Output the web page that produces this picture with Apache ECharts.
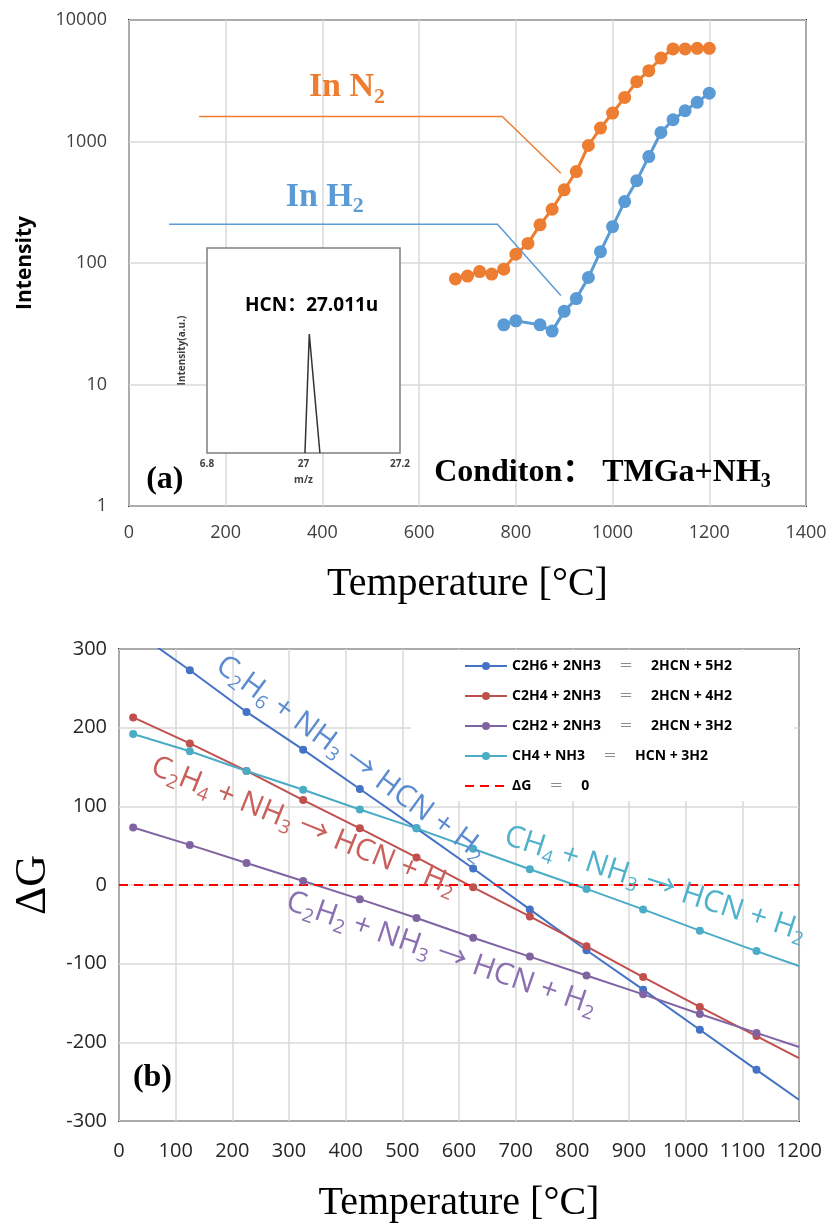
<!DOCTYPE html>
<html>
<head>
<meta charset="utf-8">
<script src="https://cdn.jsdelivr.net/npm/echarts@6/dist/echarts.min.js"></script>
<style>
  html, body { margin: 0; padding: 0; background: #fff; }
  #chart { width: 834px; height: 1232px; }
</style>
</head>
<body>
<div id="chart"></div>
<script>
// (a) HCN intensity vs temperature
var n2Temp = [675, 700, 725, 750, 775, 800, 825, 850, 875, 900, 925, 950, 975, 1000, 1025, 1050, 1075, 1100, 1125, 1150, 1175, 1200];
var n2Val = [74, 78, 85, 81, 89, 118, 145, 206, 277, 400, 566, 927, 1290, 1715, 2307, 3107, 3826, 4863, 5780, 5780, 5850, 5850];
var h2Temp = [775, 800, 850, 875, 900, 925, 950, 975, 1000, 1025, 1050, 1075, 1100, 1125, 1150, 1175, 1200];
var h2Val = [31, 33.4, 31, 27.5, 40, 51, 76, 124, 199, 320, 476, 752, 1186, 1510, 1790, 2100, 2500];
// callout lines pointing at the two curves
var n2Callout = [[145, 1607], [772, 1607], [893, 548]];
var h2Callout = [[83, 208], [762, 208], [893, 54]];

// inset mass spectrum
var peakMz = [27.003, 27.012, 27.034];
var peakVal = [0, 0.58, 0];
var insetTicks = [26.8, 27, 27.2];
var insetTickText = ["6.8", "27", "27.2"];

// (b) Gibbs energy vs temperature
var dgTemp = [25, 125, 225, 325, 425, 525, 625, 725, 825, 925, 1025, 1125, 1200];
var c2h6 = [324, 273, 220, 172, 122, 72, 21, -31, -83, -133, -184, -235, -273];
var c2h4 = [213, 180, 145, 108, 72, 35, -3, -40, -78, -117, -155, -192, -220];
var c2h2 = [73, 51, 28, 5, -18, -42, -67, -91, -115, -139, -164, -188, -206];
var ch4 = [192, 170, 145, 121, 96, 72, 46, 20, -5, -31, -58, -84, -103];
var zeroLine = [[0, 0], [1200, 0]];
var legendNames = [
  "C2H6 + 2NH3 = 2HCN + 5H2",
  "C2H4 + 2NH3 = 2HCN + 4H2",
  "C2H2 + 2NH3 = 2HCN + 3H2",
  "CH4 + NH3 = HCN + 3H2",
  "ΔG = 0"
];

var SANS = '"Open Sans", "Noto Sans CJK SC", sans-serif';
var SERIF = '"Liberation Serif", "Noto Sans CJK SC", serif';
var GRID_LINE = { lineStyle: { color: "#d9d9d9", width: 1.5 } };

function pairs(xs, ys) {
  return xs.map(function (x, i) { return [x, ys[i]]; });
}
// last point (1200) only carries the line to the frame, no marker
function dgData(ys) {
  return dgTemp.map(function (t, i) {
    if (t === 1200) return { value: [t, ys[i]], symbol: "none" };
    return [t, ys[i]];
  });
}

function dgSeries(name, ys, color) {
  return {
    name: name, type: "line", xAxisIndex: 1, yAxisIndex: 1,
    data: dgData(ys), color: color,
    symbol: "circle", symbolSize: 8,
    lineStyle: { width: 2, color: color },
    itemStyle: { color: color }
  };
}

function plainNumber(v) { return String(Math.round(v)); }

var chart = echarts.init(document.getElementById("chart"));

var option = {
  animation: false,
  backgroundColor: "#fff",
  grid: [
    { left: 129, top: 20, width: 677, height: 486, show: true, borderColor: "#262626", borderWidth: 2 },
    { left: 119, top: 649, width: 680, height: 472, show: true, borderColor: "#262626", borderWidth: 2 },
    { left: 207, top: 248, width: 193, height: 205, show: true, borderColor: "#7f7f7f", borderWidth: 1.5, backgroundColor: "#fff", z: 5 }
  ],
  xAxis: [
    {
      gridIndex: 0, type: "value", min: 0, max: 1400, interval: 200,
      axisLine: { show: false }, axisTick: { show: false },
      axisLabel: { margin: 18, fontSize: 18, color: "#404040", fontFamily: SANS, formatter: plainNumber },
      splitLine: GRID_LINE,
      name: "Temperature [°C]", nameLocation: "middle", nameGap: 58,
      nameTextStyle: { fontFamily: SERIF, fontSize: 40, color: "#000" }
    },
    {
      gridIndex: 1, type: "value", min: 0, max: 1200, interval: 100,
      axisLine: { show: false }, axisTick: { show: false },
      axisLabel: { margin: 20, fontSize: 20, color: "#262626", fontFamily: SANS, formatter: plainNumber },
      splitLine: GRID_LINE,
      name: "Temperature [°C]", nameLocation: "middle", nameGap: 62,
      nameTextStyle: { fontFamily: SERIF, fontSize: 40, color: "#000" }
    },
    {
      gridIndex: 2, type: "value", min: 26.8, max: 27.2, interval: 0.2, z: 6,
      axisLine: { show: false }, axisTick: { show: false }, splitLine: { show: false },
      axisLabel: {
        margin: 6, fontSize: 10, fontWeight: "bold", color: "#404040", fontFamily: SANS,
        formatter: function (v) {
          var i = Math.round((v - insetTicks[0]) / 0.2);
          return insetTickText[i] || "";
        }
      },
      name: "m/z", nameLocation: "middle", nameGap: 22,
      nameTextStyle: { fontSize: 10, fontWeight: "bold", color: "#404040", fontFamily: SANS }
    }
  ],
  yAxis: [
    {
      gridIndex: 0, type: "log", logBase: 10, min: 1, max: 10000,
      axisLine: { show: false }, axisTick: { show: false },
      axisLabel: { margin: 22, fontSize: 18, color: "#404040", fontFamily: SANS, formatter: plainNumber },
      splitLine: GRID_LINE,
      name: "Intensity", nameLocation: "middle", nameGap: 93,
      nameTextStyle: { fontFamily: SANS, fontWeight: "bold", fontSize: 21, color: "#000" }
    },
    {
      gridIndex: 1, type: "value", min: -300, max: 300, interval: 100,
      axisLine: { show: false }, axisTick: { show: false },
      axisLabel: { margin: 12, fontSize: 20, color: "#262626", fontFamily: SANS },
      splitLine: GRID_LINE,
      name: "ΔG", nameLocation: "middle", nameGap: 55,
      nameTextStyle: { fontFamily: SERIF, fontSize: 44, color: "#000" }
    },
    {
      gridIndex: 2, type: "value", min: 0, max: 1, z: 6,
      axisLine: { show: false }, axisTick: { show: false },
      axisLabel: { show: false }, splitLine: { show: false },
      name: "Intensity(a.u.)", nameLocation: "middle", nameGap: 20,
      nameTextStyle: { fontSize: 10, fontWeight: "bold", color: "#404040", fontFamily: SANS }
    }
  ],
  legend: {
    data: legendNames.map(function (n, i) {
      return i === 4 ? { name: n, itemStyle: { opacity: 0 } } : n;
    }),
    orient: "vertical",
    left: 411, top: 650,
    padding: [9, 62, 8, 53],
    backgroundColor: "#fff",
    itemWidth: 42, itemHeight: 10, itemGap: 16,
    formatter: function (name) {
      var p = name.split(" = ");
      return "{b|" + p[0] + "}{e|＝}{b|" + p[1] + "}";
    },
    textStyle: {
      rich: {
        b: { fontFamily: SANS, fontWeight: "bold", fontSize: 14, color: "#000" },
        e: { fontFamily: SANS, fontSize: 14, color: "#8c8c8c", padding: [0, 18, 0, 18] }
      }
    }
  },
  series: [
    {
      name: "In N2", type: "line", xAxisIndex: 0, yAxisIndex: 0,
      data: pairs(n2Temp, n2Val), color: "#ED7D31",
      symbol: "circle", symbolSize: 13, lineStyle: { width: 3 }
    },
    {
      name: "In H2", type: "line", xAxisIndex: 0, yAxisIndex: 0,
      data: pairs(h2Temp, h2Val), color: "#5B9BD5",
      symbol: "circle", symbolSize: 13, lineStyle: { width: 3 }
    },
    {
      name: "n2-callout", type: "line", xAxisIndex: 0, yAxisIndex: 0, silent: true,
      data: n2Callout, symbol: "none", lineStyle: { width: 1.5, color: "#ED7D31" }
    },
    {
      name: "h2-callout", type: "line", xAxisIndex: 0, yAxisIndex: 0, silent: true,
      data: h2Callout, symbol: "none", lineStyle: { width: 1.5, color: "#5B9BD5" }
    },
    {
      name: "peak", type: "line", xAxisIndex: 2, yAxisIndex: 2, z: 7, silent: true,
      data: pairs(peakMz, peakVal), symbol: "none",
      lineStyle: { width: 1.5, color: "#333" }
    },
    dgSeries(legendNames[0], c2h6, "#4472C4"),
    dgSeries(legendNames[1], c2h4, "#C0504D"),
    dgSeries(legendNames[2], c2h2, "#8064A2"),
    dgSeries(legendNames[3], ch4, "#4BACC6"),
    {
      name: legendNames[4], type: "line", xAxisIndex: 1, yAxisIndex: 1,
      data: zeroLine, symbol: "none", color: "#FF0000",
      lineStyle: { width: 2, type: [9, 6], color: "#FF0000" }
    }
  ]
};

chart.setOption(option);

// text annotations, anchored in data coordinates of their grid
var notes = [
  { grid: 0, at: [372, 2775], text: "In N{s|2}", size: 34, sub: 22, color: "#ED7D31", font: SERIF, weight: "bold", align: "left", rot: 0 },
  { grid: 0, at: [324, 350], text: "In H{s|2}", size: 34, sub: 22, color: "#5B9BD5", font: SERIF, weight: "bold", align: "left", rot: 0 },
  { grid: 0, at: [74, 1.63], text: "(a)", size: 32, sub: 20, color: "#000", font: SERIF, weight: "bold", align: "center", rot: 0 },
  { grid: 0, at: [631, 1.89], text: "Conditon： TMGa+NH{s|3}", size: 32, sub: 20, color: "#000", font: SERIF, weight: "bold", align: "left", rot: 0 },
  { grid: 2, at: [27.017, 0.72], text: "HCN：27.011u", size: 19, sub: 12, color: "#000", font: SANS, weight: "bold", align: "center", rot: 0 },
  { grid: 1, at: [59, -245], text: "(b)", size: 32, sub: 20, color: "#000", font: SERIF, weight: "bold", align: "center", rot: 0 },
  { grid: 1, at: [177, 283], text: "C{s|2}H{s|6} + NH{s|3} → HCN + H{s|2}", size: 30, sub: 19, color: "#5B8BD0", font: SANS, weight: "normal", align: "left", rot: 36 },
  { grid: 1, at: [59, 152], text: "C{s|2}H{s|4} + NH{s|3} → HCN + H{s|2}", size: 30, sub: 19, color: "#C9605C", font: SANS, weight: "normal", align: "left", rot: 22 },
  { grid: 1, at: [297, -20], text: "C{s|2}H{s|2} + NH{s|3} → HCN + H{s|2}", size: 30, sub: 19, color: "#8A70B2", font: SANS, weight: "normal", align: "left", rot: 19 },
  { grid: 1, at: [682, 63], text: "CH{s|4} + NH{s|3} → HCN + H{s|2}", size: 30, sub: 19, color: "#4FB1CB", font: SANS, weight: "normal", align: "left", rot: 18 }
];

var graphics = notes.map(function (n) {
  var p = chart.convertToPixel({ gridIndex: n.grid }, n.at);
  return {
    type: "text", x: p[0], y: p[1], z: 20,
    rotation: -n.rot * Math.PI / 180,
    style: {
      text: n.text,
      fill: n.color,
      fontSize: n.size, fontFamily: n.font, fontWeight: n.weight,
      lineHeight: Math.round(n.size * 1.2),
      align: n.align, verticalAlign: "middle",
      rich: {
        s: { fontSize: n.sub, lineHeight: n.sub, verticalAlign: "bottom", fill: n.color, fontFamily: n.font, fontWeight: n.weight }
      }
    }
  };
});

chart.setOption({ graphic: graphics });
</script>
</body>
</html>
